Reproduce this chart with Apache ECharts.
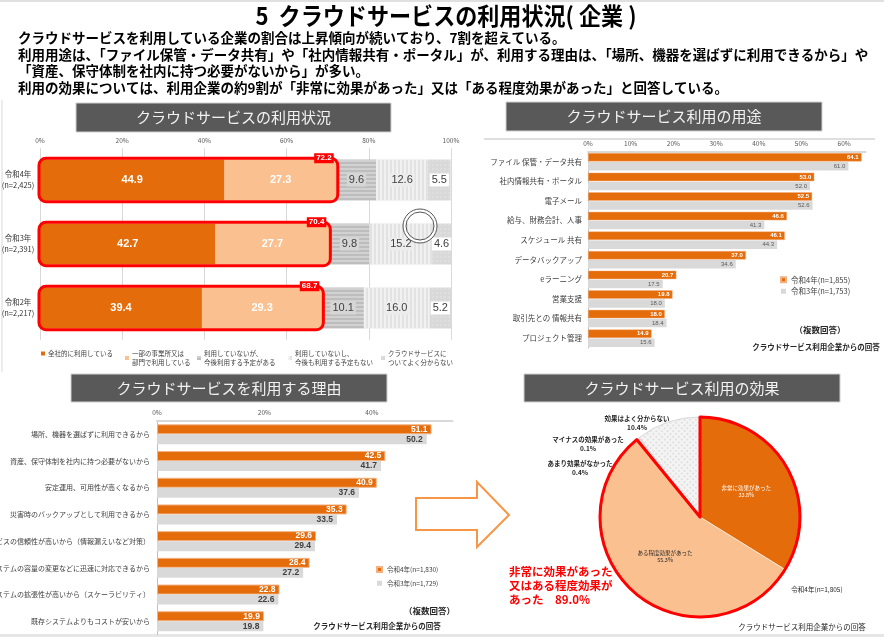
<!DOCTYPE html>
<html>
<head>
<meta charset="utf-8">
<script src="https://cdn.jsdelivr.net/npm/echarts@6/dist/echarts.min.js"></script>
<style>
  html, body { margin: 0; padding: 0; background: #fff; }
  #main { width: 884px; height: 637px; }
</style>
</head>
<body>
<div id="main"></div>
<script>
// 利用状況
const years = ['令和4年\n(n=2,425)', '令和3年\n(n=2,391)', '令和2年\n(n=2,217)'];
const statusNames = ['全社的に利用している', '一部の事業所又は\n部門で利用している', '利用していないが、\n今後利用する予定がある', '利用していないし、\n今後も利用する予定もない', 'クラウドサービスに\nついてよく分からない'];
const allCompany = [44.9, 42.7, 39.4];
const partly = [27.3, 27.7, 29.3];
const planned = [9.6, 9.8, 10.1];
const noPlan = [12.6, 15.2, 16.0];
const unknown = [5.5, 4.6, 5.2];
const usedTotal = [72.2, 70.4, 68.7];

// 用途
const purposeCats = ['ファイル 保管・データ共有', '社内情報共有・ポータル', '電子メール', '給与、財務会計、人事', 'スケジュール 共有', 'データバックアップ', 'eラーニング', '営業支援', '取引先との 情報共有', 'プロジェクト管理'];
const purpose2022 = [64.1, 53.0, 52.5, 46.6, 46.1, 37.0, 20.7, 19.8, 18.0, 14.9];
const purpose2021 = [61.0, 52.0, 52.6, 41.3, 44.3, 34.6, 17.5, 18.0, 18.4, 15.6];

// 理由
const reasonCats = ['場所、機器を選ばずに利用できるから', '資産、保守体制を社内に持つ必要がないから', '安定運用、可用性が高くなるから', '災害時のバックアップとして利用できるから', 'クラウドサービスの信頼性が高いから（情報漏えいなど対策）', 'システムの容量の変更などに迅速に対応できるから', 'システムの拡張性が高いから（スケーラビリティ）', '既存システムよりもコストが安いから'];
const reason2022 = [51.1, 42.5, 40.9, 35.3, 29.6, 28.4, 22.8, 19.9];
const reason2021 = [50.2, 41.7, 37.6, 33.5, 29.4, 27.2, 22.6, 19.8];

// 効果
const effectNames = ['非常に効果があった', 'ある程度効果があった', 'あまり効果がなかった', 'マイナスの効果があった', '効果はよく分からない'];
const effectValues = [33.8, 55.3, 0.4, 0.1, 10.4];

const JP = '"Noto Sans CJK JP", sans-serif';
const NUM = '"Liberation Sans", Arial, sans-serif';
const ORANGE = '#E46C0A';
const PEACH = '#FAC090';

const chart = echarts.init(document.getElementById('main'));

// 見出しボックス
function headBox(x, y, w, h, text) {
  return {
    type: 'group',
    children: [
      { type: 'rect', shape: { x: x, y: y, width: w, height: h }, style: { fill: '#595959', stroke: '#D0D0D0', lineWidth: 1 } },
      { type: 'text', style: { text: text, x: x + w / 2, y: y + h / 2, align: 'center', verticalAlign: 'middle', fill: '#F2F2F2', font: '15px ' + JP } }
    ]
  };
}
function note(text, x, y, size, weight, color, align) {
  return { type: 'text', z: 100, style: { text: text, x: x, y: y, align: align || 'left', verticalAlign: 'middle', fill: color || '#262626', font: (weight || 'normal') + ' ' + size + 'px ' + JP } };
}

const segLabel = (bg) => ({
  show: true, position: 'inside', color: '#404040', fontSize: 11, fontFamily: NUM,
  backgroundColor: bg, padding: [1, 2],
  formatter: p => p.value.toFixed(1)
});
const whiteLabel = {
  show: true, position: 'inside', color: '#fff', fontSize: 11, fontWeight: 'bold', fontFamily: NUM,
  formatter: p => p.value.toFixed(1)
};

const legendBase = {
  orient: 'horizontal', padding: 0, itemWidth: 4, itemHeight: 4, icon: 'rect', selectedMode: false,
  textStyle: { fontSize: 6.5, color: '#404040', lineHeight: 9, padding: [0, 0, 0, -2] }
};
const legend1Left = [41, 125, 197, 288, 381];

const option = {
  animation: false,
  textStyle: { fontFamily: JP },
  grid: [
    { left: 40, top: 148, width: 411, height: 192, outerBoundsMode: 'none' },
    { left: 588, top: 152, width: 277.5, height: 196, outerBoundsMode: 'none' },
    { left: 157, top: 421, width: 295.5, height: 213.6, outerBoundsMode: 'none' }
  ],
  legend: statusNames.map((n, i) => Object.assign({}, legendBase, { left: legend1Left[i], top: 349, data: [n] })).concat([
    {
      orient: 'vertical', left: 780, top: 276, padding: 0, itemWidth: 5, itemHeight: 5, itemGap: 4, icon: 'rect', selectedMode: false,
      textStyle: { fontSize: 7.5, color: '#404040' }, data: ['令和4年(n=1,855)', '令和3年(n=1,753)']
    },
    {
      orient: 'vertical', left: 376, top: 566, padding: 0, itemWidth: 5, itemHeight: 5, itemGap: 7, icon: 'rect', selectedMode: false,
      textStyle: { fontSize: 6.5, color: '#404040' }, data: ['令和4年(n=1,830)', '令和3年(n=1,729)']
    }
  ]),
  xAxis: [
    {
      gridIndex: 0, type: 'value', position: 'top', min: 0, max: 100, interval: 20,
      axisLabel: { formatter: '{value}%', fontSize: 6.5, color: '#595959', margin: 4 },
      axisLine: { show: false }, axisTick: { show: false },
      splitLine: { lineStyle: { color: '#D9D9D9' } }
    },
    {
      gridIndex: 1, type: 'value', position: 'top', min: 0, max: 65, interval: 10,
      axisLabel: { formatter: '{value}%', fontSize: 6.5, color: '#595959', margin: 5, showMaxLabel: false },
      axisLine: { show: true, lineStyle: { color: '#D9D9D9', width: 2 } }, axisTick: { show: false },
      splitLine: { show: false }
    },
    {
      gridIndex: 2, type: 'value', position: 'top', min: 0, max: 55, interval: 20,
      axisLabel: { formatter: '{value}%', fontSize: 6.5, color: '#595959', margin: 5, showMaxLabel: false },
      axisLine: { show: true, lineStyle: { color: '#D9D9D9', width: 2 } }, axisTick: { show: false },
      splitLine: { show: false }
    }
  ],
  yAxis: [
    {
      gridIndex: 0, type: 'category', data: years, inverse: true,
      axisLine: { show: false }, axisTick: { show: false },
      axisLabel: { fontSize: 7.5, color: '#333', align: 'center', margin: 22, lineHeight: 11 }
    },
    {
      gridIndex: 1, type: 'category', data: purposeCats, inverse: true,
      axisLine: { lineStyle: { color: '#BFBFBF' } }, axisTick: { length: 3, lineStyle: { color: '#BFBFBF' } },
      axisLabel: { fontSize: 7.5, color: '#404040', margin: 6 }
    },
    {
      gridIndex: 2, type: 'category', data: reasonCats, inverse: true,
      axisLine: { lineStyle: { color: '#BFBFBF' } }, axisTick: { length: 3, lineStyle: { color: '#BFBFBF' } },
      axisLabel: { fontSize: 7, color: '#404040', margin: 7 }
    }
  ],
  series: [
    { name: statusNames[0], type: 'bar', stack: 'use', barWidth: 41, data: allCompany, itemStyle: { color: ORANGE }, label: whiteLabel },
    { name: statusNames[1], type: 'bar', stack: 'use', barWidth: 41, data: partly, itemStyle: { color: PEACH }, label: whiteLabel },
    {
      name: statusNames[2], type: 'bar', stack: 'use', barWidth: 41, data: planned,
      itemStyle: { color: '#BDBDBD', decal: { symbol: 'rect', symbolSize: 1, dashArrayX: [1, 0], dashArrayY: [2, 2], color: 'rgba(255,255,255,0.3)' } },
      label: segLabel('#D6D6D6')
    },
    {
      name: statusNames[3], type: 'bar', stack: 'use', barWidth: 41, data: noPlan,
      itemStyle: { color: '#E2E2E2', decal: { symbol: 'rect', symbolSize: 1, dashArrayX: [2, 2], dashArrayY: [1, 0], color: 'rgba(255,255,255,0.5)' } },
      label: segLabel('#EDEDED')
    },
    {
      name: statusNames[4], type: 'bar', stack: 'use', barWidth: 41, data: unknown,
      itemStyle: { color: '#D9D9D9', decal: { symbol: 'circle', symbolSize: 0.7, dashArrayX: 2, dashArrayY: 2, color: 'rgba(255,255,255,0.4)' } },
      label: segLabel('#FFFFFF')
    },
    {
      type: 'custom', xAxisIndex: 0, yAxisIndex: 0, z: 5, silent: true,
      data: usedTotal.map((v, i) => [v, i]),
      renderItem: function (params, api) {
        const end = api.coord([api.value(0), api.value(1)]);
        const start = api.coord([0, api.value(1)]);
        const h = api.size([0, 1])[1] * 0.68;
        return {
          type: 'group',
          children: [
            { type: 'rect', shape: { x: start[0] - 1, y: end[1] - h / 2, width: end[0] - start[0] + 2, height: h, r: 7 }, style: { fill: 'none', stroke: '#FF0000', lineWidth: 3 } },
            { type: 'text', z2: 10, style: { text: api.value(0).toFixed(1), x: end[0] - 3, y: end[1] - h / 2, align: 'right', verticalAlign: 'middle', fill: '#fff', font: 'bold 8px ' + NUM, backgroundColor: '#FF0000', padding: [1, 2] } }
          ]
        };
      }
    },
    {
      name: '令和4年(n=1,855)', type: 'bar', xAxisIndex: 1, yAxisIndex: 1, barWidth: 8.5, barGap: '6%', data: purpose2022,
      itemStyle: { color: ORANGE, borderColor: '#F4B183', borderWidth: 0.5 },
      label: { show: true, position: 'insideRight', distance: 3, color: '#fff', fontSize: 6, fontFamily: NUM, fontWeight: 'bold', formatter: p => p.value.toFixed(1) }
    },
    {
      name: '令和3年(n=1,753)', type: 'bar', xAxisIndex: 1, yAxisIndex: 1, barWidth: 8.5, data: purpose2021,
      itemStyle: { color: '#D9D9D9' },
      label: { show: true, position: 'insideRight', distance: 3, color: '#595959', fontSize: 6, fontFamily: NUM, formatter: p => p.value.toFixed(1) }
    },
    {
      name: '令和4年(n=1,830)', type: 'bar', xAxisIndex: 2, yAxisIndex: 2, barWidth: 10, barGap: '0%', data: reason2022,
      itemStyle: { color: ORANGE, borderColor: '#F4B183', borderWidth: 1 },
      label: { show: true, position: 'insideRight', distance: 4, color: '#fff', fontSize: 8.5, fontFamily: NUM, fontWeight: 'bold', formatter: p => p.value.toFixed(1) }
    },
    {
      name: '令和3年(n=1,729)', type: 'bar', xAxisIndex: 2, yAxisIndex: 2, barWidth: 10, data: reason2021,
      itemStyle: { color: '#D9D9D9' },
      label: { show: true, position: 'insideRight', distance: 4, color: '#404040', fontSize: 8.5, fontFamily: NUM, fontWeight: 'bold', formatter: p => p.value.toFixed(1) }
    },
    {
      type: 'pie', center: [700, 517], radius: 100, startAngle: 90, clockwise: true, silent: true,
      itemStyle: { borderColor: '#fff', borderWidth: 0.5 },
      labelLine: { show: false },
      label: { formatter: p => p.name + '\n' + p.value.toFixed(1) + '%', fontSize: 6.5, lineHeight: 9, color: '#262626', fontWeight: 'bold' },
      labelLayout: function (p) {
        const pos = [null, null, [580, 468], [588, 444], [637, 423]][p.dataIndex];
        if (!pos) return {};
        return { x: pos[0], y: pos[1], align: 'center', verticalAlign: 'middle' };
      },
      data: effectNames.map((n, i) => {
        const item = { name: n, value: effectValues[i] };
        if (i === 0) { item.itemStyle = { color: ORANGE }; item.label = { position: 'inside', color: '#fff', fontSize: 5.5, lineHeight: 7, fontWeight: 'normal' }; }
        if (i === 1) { item.itemStyle = { color: PEACH }; item.label = { position: 'inside', color: '#262626', fontSize: 5.5, lineHeight: 7, fontWeight: 'normal' }; }
        if (i === 2) { item.itemStyle = { color: '#D0D0D0' }; item.label = { position: 'outside' }; }
        if (i === 3) { item.itemStyle = { color: '#A6A6A6' }; item.label = { position: 'outside' }; }
        if (i === 4) {
          item.itemStyle = { color: '#F4F4F4', borderColor: '#D0D0D0', decal: { symbol: 'circle', symbolSize: 0.6, dashArrayX: 2, dashArrayY: 2, rotation: 0.785, color: '#A0A0A0' } };
          item.label = { position: 'outside' };
        }
        return item;
      })
    },
    {
      type: 'pie', center: [700, 517], radius: 100, startAngle: 90, clockwise: true, silent: true, z: 5,
      label: { show: false }, labelLine: { show: false },
      data: [
        { value: effectValues[0] + effectValues[1], itemStyle: { color: 'rgba(0,0,0,0)', borderColor: '#FF0000', borderWidth: 3 } },
        { value: effectValues[2] + effectValues[3] + effectValues[4], itemStyle: { color: 'rgba(0,0,0,0)', borderWidth: 0 } }
      ]
    }
  ],
  graphic: [
    { type: 'rect', shape: { x: 0, y: 0, width: 884, height: 2 }, style: { fill: '#E0E0E0' } },
    { type: 'rect', shape: { x: 0, y: 634, width: 884, height: 3 }, style: { fill: '#E6E6E6' } },
    { type: 'line', shape: { x1: 2, y1: 100, x2: 2, y2: 372 }, style: { stroke: '#D9D9D9', lineWidth: 1 } },
    { type: 'line', shape: { x1: 484, y1: 139, x2: 875, y2: 139 }, style: { stroke: '#BFBFBF', lineWidth: 1 } },
    { type: 'text', x: 446, y: 16, scaleX: 0.92, style: { text: '5  クラウドサービスの利用状況( 企業 )', x: 0, y: 0, align: 'center', verticalAlign: 'middle', fill: '#000', font: 'bold 24px ' + JP } },
    note('クラウドサービスを利用している企業の割合は上昇傾向が続いており、7割を超えている。', 18, 38, 13.5, 'bold', '#000'),
    note('利用用途は、「ファイル保管・データ共有」や「社内情報共有・ポータル」が、利用する理由は、「場所、機器を選ばずに利用できるから」や', 18, 55, 13.5, 'bold', '#000'),
    note('「資産、保守体制を社内に持つ必要がないから」が多い。', 18, 71, 13.5, 'bold', '#000'),
    note('利用の効果については、利用企業の約9割が「非常に効果があった」又は「ある程度効果があった」と回答している。', 18, 88, 13.5, 'bold', '#000'),
    headBox(76, 103, 315, 29, 'クラウドサービスの利用状況'),
    headBox(506, 102, 316, 29, 'クラウドサービス利用の用途'),
    headBox(71, 374, 316, 28, 'クラウドサービスを利用する理由'),
    headBox(524, 374, 316, 28, 'クラウドサービス利用の効果'),
    // カーソル跡
    { type: 'circle', z: 20, shape: { cx: 420, cy: 226, r: 15.5 }, style: { fill: 'none', stroke: '#fff', lineWidth: 3 } },
    { type: 'circle', z: 20, shape: { cx: 420, cy: 226, r: 17 }, style: { fill: 'none', stroke: '#555', lineWidth: 1 } },
    { type: 'circle', z: 20, shape: { cx: 420, cy: 226, r: 14 }, style: { fill: 'none', stroke: '#555', lineWidth: 1 } },
    // 矢印
    { type: 'polygon', shape: { points: [[416, 498], [477, 498], [477, 482], [509, 515], [477, 547], [477, 530], [416, 530]] }, style: { fill: '#fff', stroke: '#F79646', lineWidth: 2 } },
    note('（複数回答）', 820, 330, 8.5, 'bold', '#262626', 'center'),
    note('クラウドサービス利用企業からの回答', 816, 347, 7.5, 'bold', '#262626', 'center'),
    note('（複数回答）', 404, 611, 8.5, 'bold', '#262626'),
    note('クラウドサービス利用企業からの回答', 377, 626, 7.5, 'bold', '#262626', 'center'),
    note('令和4年(n=1,805)', 817, 590, 6.5, 'normal', '#262626', 'center'),
    note('クラウドサービス利用企業からの回答', 802, 627, 7.5, 'normal', '#262626', 'center'),
    { type: 'text', z: 100, style: { text: '非常に効果があった\n又はある程度効果が\nあった　89.0%', x: 509, y: 565, verticalAlign: 'top', fill: '#FF0000', font: 'bold 11.5px ' + JP, lineHeight: 14 } }
  ]
};

chart.setOption(option);
window.addEventListener('resize', function () {
  chart.resize();
});
</script>
</body>
</html>
